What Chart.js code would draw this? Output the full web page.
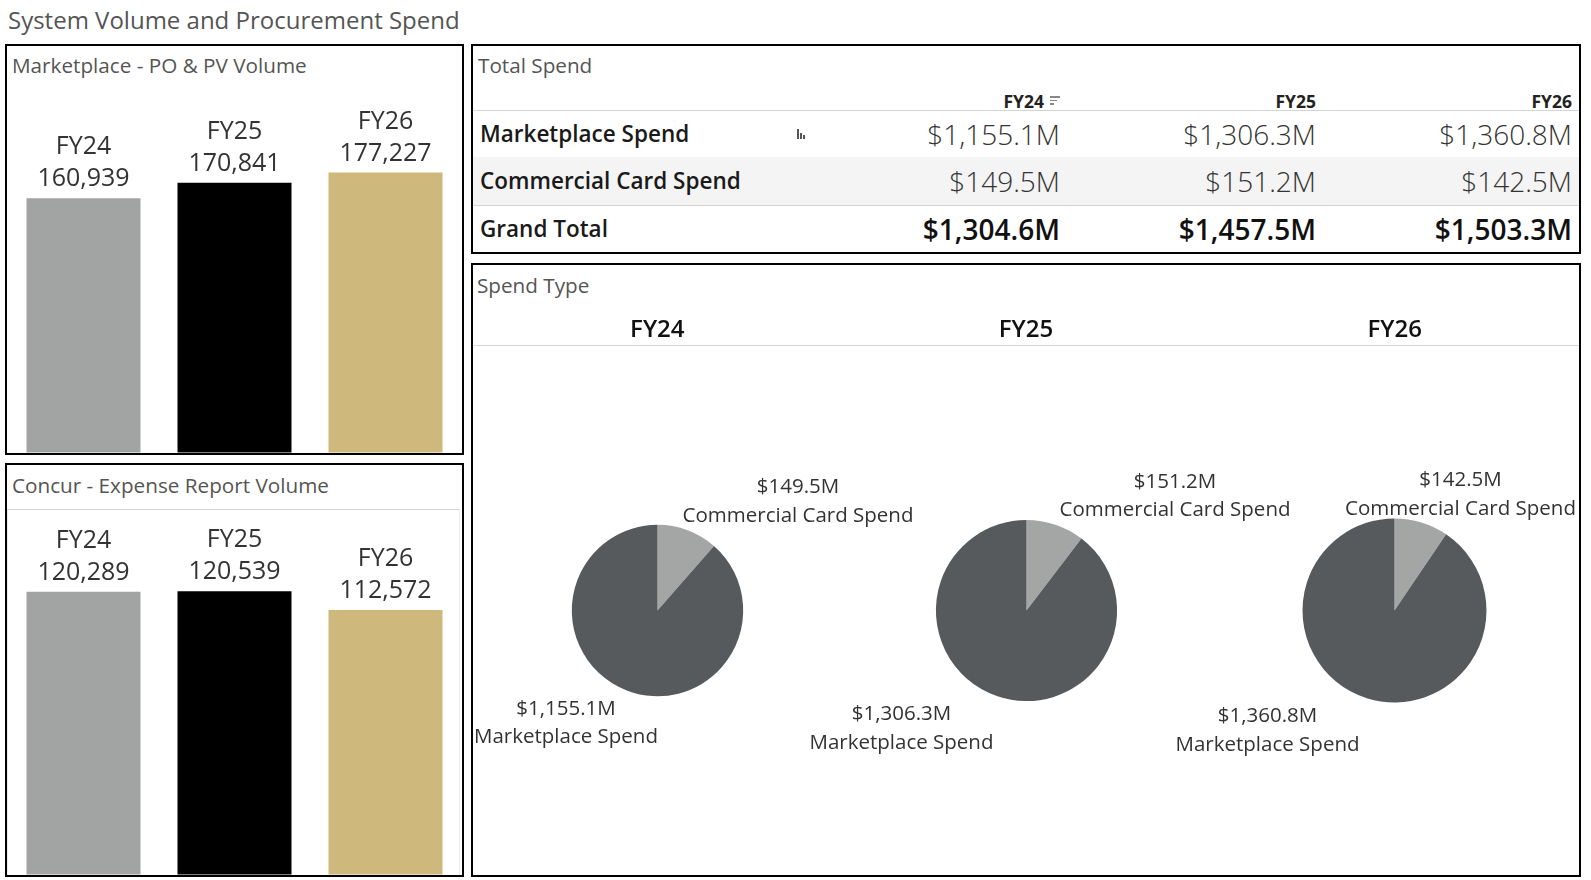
<!DOCTYPE html>
<html><head><meta charset="utf-8">
<script src="https://cdn.jsdelivr.net/npm/chart.js@4.4.1/dist/chart.umd.min.js"></script>
<style>
html,body{margin:0;padding:0;background:#fff;}
body{width:1591px;height:880px;position:relative;overflow:hidden;font-family:"Open Sans",sans-serif;color:#333;}
.panel{position:absolute;border:2px solid #000;box-sizing:border-box;}
.t{position:absolute;white-space:nowrap;height:40px;line-height:40px;}
canvas{position:absolute;display:block;}
.hline{position:absolute;height:1px;background:#d4d4d4;}
</style></head><body>
<script>
// ---------- DATA ----------
const years = ['FY24', 'FY25', 'FY26'];
const marketplaceVolume = [160939, 170841, 177227];
const concurVolume = [120289, 120539, 112572];
const spendRows = ['Marketplace Spend', 'Commercial Card Spend', 'Grand Total'];
const marketplaceSpend = [1155.1, 1306.3, 1360.8];
const commercialCardSpend = [149.5, 151.2, 142.5];
const grandTotal = [1304.6, 1457.5, 1503.3];
const pieLabels = ['Commercial Card Spend', 'Marketplace Spend'];

// ---------- STYLE ----------
const barColors = ['#a2a4a3', '#000000', '#cfb87c'];
const pieColors = ['#a4a6a5', '#575a5d'];
const FONT = '"Open Sans", sans-serif';

function text(str, x, yc, o) {
  o = o || {};
  const d = document.createElement('div');
  d.className = 't';
  d.textContent = str;
  d.style.top = (yc - 20) + 'px';
  d.style.fontSize = (o.size || 18) + 'px';
  d.style.color = o.color || '#333';
  d.style.fontWeight = o.weight || 400;
  if (o.align === 'right') { d.style.right = (1591 - x) + 'px'; d.style.textAlign = 'right'; }
  else if (o.align === 'center') { d.style.left = (x - 200) + 'px'; d.style.width = '400px'; d.style.textAlign = 'center'; }
  else d.style.left = x + 'px';
  document.body.appendChild(d);
  return d;
}
function box(cls, l, t, w, h, extra) {
  const d = document.createElement('div');
  d.className = cls;
  Object.assign(d.style, {left: l + 'px', top: t + 'px', width: w + 'px', height: h + 'px'}, extra || {});
  document.body.appendChild(d);
  return d;
}
function canvas(l, t, w, h) {
  const c = document.createElement('canvas');
  c.width = w; c.height = h;
  Object.assign(c.style, {left: l + 'px', top: t + 'px', width: w + 'px', height: h + 'px'});
  document.body.appendChild(c);
  return c;
}
const money = v => '$' + v.toLocaleString('en-US', {minimumFractionDigits: 1, maximumFractionDigits: 1}) + 'M';

// ---------- TITLES / PANELS ----------
text('System Volume and Procurement Spend', 8, 20, {size: 24, color: '#555'});
box('panel', 5, 44, 459, 411);
box('panel', 5, 463, 459, 414);
box('panel', 471, 44, 1110, 210);
box('panel', 471, 263, 1110, 614);
text('Marketplace - PO & PV Volume', 12, 65, {size: 20.7, color: '#555'});
text('Concur - Expense Report Volume', 12, 485, {size: 20.7, color: '#555'});
text('Total Spend', 478, 65, {size: 20.7, color: '#555'});
text('Spend Type', 477, 285, {size: 20.7, color: '#555'});

// ---------- BAR CHARTS ----------
const barLabelPlugin = {
  id: 'barLabels',
  afterDatasetsDraw(chart) {
    const ctx = chart.ctx, meta = chart.getDatasetMeta(0);
    ctx.save();
    ctx.font = '25px ' + FONT;
    ctx.fillStyle = '#333';
    ctx.textAlign = 'center';
    ctx.textBaseline = 'middle';
    meta.data.forEach((bar, i) => {
      ctx.fillText(chart.data.datasets[0].data[i].toLocaleString('en-US'), bar.x, bar.y - 19);
      ctx.fillText(chart.data.labels[i], bar.x, bar.y - 51);
    });
    ctx.restore();
  }
};
function barChart(cv, values, max, step) {
  return new Chart(cv, {
    type: 'bar',
    data: {labels: years, datasets: [{data: values, backgroundColor: barColors, borderWidth: 0,
      barPercentage: 0.755, categoryPercentage: 1}]},
    options: {
      responsive: false, animation: false, events: [],
      layout: {padding: 0},
      plugins: {legend: {display: false}, tooltip: {enabled: false}},
      scales: {
        x: {display: false},
        y: {min: 0, max: max, display: true,
            ticks: {display: false, stepSize: step},
            afterBuildTicks: s => { s.ticks = s.ticks.filter(t => t.value % step === 0); },
            grid: {color: '#eeeeee', drawTicks: false, tickLength: 0},
            border: {display: false}}
      }
    },
    plugins: [barLabelPlugin]
  });
}
barChart(canvas(8, 89, 453, 364), marketplaceVolume, 230000, 50000);
box('', 7, 509, 453, 366, {position: 'absolute', borderTop: '1px solid #d4d4d4', borderLeft: '1px solid #ececec', borderRight: '1px solid #ececec', boxSizing: 'border-box'});
barChart(canvas(8, 510, 453, 365), concurVolume, 155000, 20000);

// ---------- TABLE ----------
const colRight = [1060, 1316, 1572];
const rowY = [133.5, 181, 228.5];
box('', 473, 157, 1106, 48, {position: 'absolute', background: '#f4f4f4'});
box('hline', 473, 110, 1106, 1);
box('hline', 473, 205, 1106, 1);
years.forEach((y, i) => {
  text(y, colRight[i] - (i === 0 ? 16 : 0), 101, {size: 17.5, weight: 700, color: '#222', align: 'right'});
});
// sort icon beside FY24 header
[10, 7, 4].forEach((w, k) => box('', 1050, 96 + k * 3.5, w, 1.5, {position: 'absolute', background: '#888'}));
// tiny bar icon
[[0, 10], [3, 6], [6, 4]].forEach(([dx, h]) => box('', 797 + dx, 139 - h, 1.5, h, {position: 'absolute', background: '#555'}));
const tableVals = [marketplaceSpend, commercialCardSpend, grandTotal];
spendRows.forEach((r, ri) => {
  const bold = ri === 2;
  text(r, 480, rowY[ri], {size: 22.5, weight: 600, color: '#1a1a1a'});
  tableVals[ri].forEach((v, ci) => {
    text(money(v), colRight[ci], rowY[ri], {size: 28, weight: bold ? 600 : 300, color: bold ? '#111' : '#333', align: 'right'});
  });
});

// ---------- PIES ----------
box('hline', 473, 345, 1106, 1);
const colW = 1106 / 3;
const PANEL_L = 473, PANEL_R = 1579;
const pieLabelPlugin = {
  id: 'pieLabels',
  afterDraw(chart) {
    if (chart.$labelsDone) return;
    chart.$labelsDone = true;
    const meta = chart.getDatasetMeta(0), ds = chart.data.datasets[0];
    const offL = parseFloat(chart.canvas.style.left), offT = parseFloat(chart.canvas.style.top);
    meta.data.forEach((arc, i) => {
      const r = arc.outerRadius, cx = offL + arc.x, cy = offT + arc.y;
      const mid = (arc.startAngle + arc.endAngle) / 2;
      const d = document.createElement('div');
      d.style.cssText = 'position:absolute;white-space:nowrap;text-align:center;font-size:20.5px;line-height:28.5px;color:#333;';
      d.innerHTML = money(ds.data[i]) + '<br>' + chart.data.labels[i];
      document.body.appendChild(d);
      const w = d.offsetWidth;
      let x, yTop;
      if (Math.cos(mid) >= 0) {
        x = Math.min(cx + 1.64 * r, PANEL_R - w / 2 - 3);
        yTop = cy - 1.11 * r - 28.5 - 14.25 - 1.5;
      } else {
        x = Math.max(cx - 1.38 * r, PANEL_L + w / 2 + 1);
        yTop = cy + 1.15 * r - 14.25 - 2;
      }
      d.style.left = (x - w / 2) + 'px';
      d.style.top = yTop + 'px';
    });
  }
};
const maxTotal = Math.max(...grandTotal);
years.forEach((y, i) => {
  const left = 473 + i * colW;
  text(y, left + colW / 2, 328, {size: 24, weight: 600, color: '#111', align: 'center'});
  new Chart(canvas(Math.round(left), 346, Math.round(colW), 529), {
    type: 'pie',
    data: {labels: pieLabels, datasets: [{data: [commercialCardSpend[i], marketplaceSpend[i]],
      backgroundColor: pieColors, borderWidth: 0}]},
    options: {
      responsive: false, animation: false, events: [],
      radius: 92 * Math.sqrt(grandTotal[i] / maxTotal),
      layout: {padding: 0},
      plugins: {legend: {display: false}, tooltip: {enabled: false}}
    },
    plugins: [pieLabelPlugin]
  });
});
</script>
</body></html>
